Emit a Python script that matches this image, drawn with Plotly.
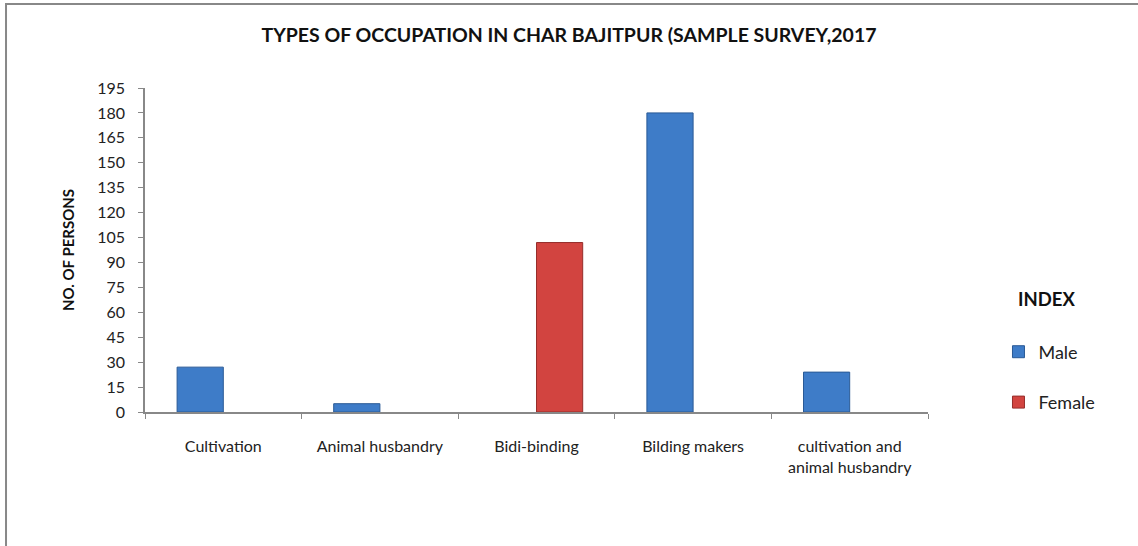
import plotly.graph_objects as go

categories = ["Cultivation", "Animal husbandry", "Bidi-binding", "Bilding makers",
              "cultivation and<br>animal husbandry"]
male = [27, 5, None, 180, 24]
female = [None, None, 102, None, None]
y_ticks = list(range(0, 196, 15))

FONT = "Lato"
fig = go.Figure()
fig.add_trace(go.Bar(name="Male", x=categories, y=male,
                     marker=dict(color="#3E7CC8", line=dict(color="#2A5A96", width=1)),
                     legendgroup="m"))
fig.add_trace(go.Bar(name="Female", x=categories, y=female,
                     marker=dict(color="#D24440", line=dict(color="#962E2B", width=1)),
                     legendgroup="f"))

fig.update_layout(
    width=1138, height=546,
    margin=dict(l=145, r=210, t=88, b=134, autoexpand=False),
    paper_bgcolor="white", plot_bgcolor="white",
    barmode="group", bargap=0.41, bargroupgap=0,
    font=dict(family=FONT, size=16, color="#222"),
    title=dict(text="<b>TYPES OF OCCUPATION IN CHAR BAJITPUR (SAMPLE SURVEY,2017</b>",
               x=0.5, xanchor="center", y=0.936, yanchor="middle",
               font=dict(family=FONT, size=19.5, color="#111")),
    showlegend=True,
    legend=dict(x=1.09, xanchor="left", y=0.108, yanchor="middle",
                tracegroupgap=24, font=dict(size=18, color="#222"),
                bgcolor="rgba(0,0,0,0)", itemwidth=30),
    xaxis=dict(showline=True, linecolor="#888", linewidth=1.5, automargin=False,
               ticks="outside", ticklen=5, tickcolor="#888", tickson="boundaries",
               showgrid=False, tickfont=dict(size=16), ticklabelstandoff=19),
    yaxis=dict(range=[0, 195], tickvals=y_ticks, showline=True, linecolor="#888",
               linewidth=1.5, ticks="outside", ticklen=5, tickcolor="#888", automargin=False,
               showgrid=False, zeroline=False, tickfont=dict(size=16), ticklabelstandoff=10,
               title=dict(text="<b>NO. OF PERSONS</b>", font=dict(size=15, color="#111"),
                          standoff=19)),
)
fig.add_annotation(text="<b>INDEX</b>", xref="paper", yref="paper",
                   x=1.112, xanchor="left", y=0.35, yanchor="middle",
                   showarrow=False, font=dict(family=FONT, size=18.5, color="#111"))
fig.add_shape(type="path", xref="paper", yref="paper",
              path="M -0.1775,-0.6 L -0.1775,1.259 L 1.4,1.259",
              line=dict(color="#888", width=2))
fig.write_html("out.html", config={"displayModeBar": False},
               post_script="document.body.style.margin='0px';document.body.style.overflow='hidden';")
